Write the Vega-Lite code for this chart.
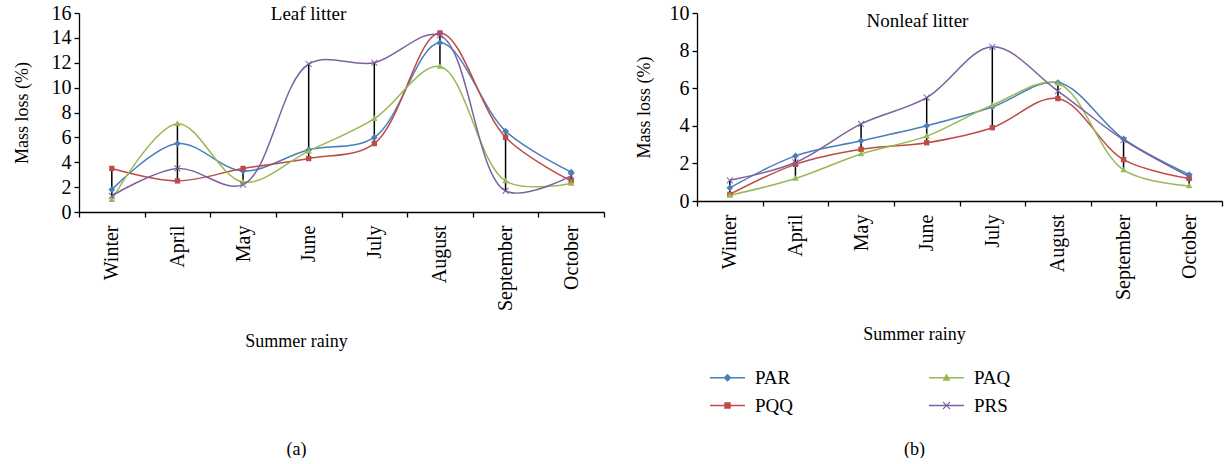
{
  "$schema": "https://vega.github.io/schema/vega-lite/v6.json",
  "padding": {"left": 13, "top": 3, "right": 2, "bottom": 0},
  "background": "white",
  "config": {
    "font": "Liberation Serif",
    "view": {"stroke": null},
    "axis": {
      "labelFont": "Liberation Serif", "titleFont": "Liberation Serif",
      "labelColor": "black", "titleColor": "black",
      "domainColor": "black", "tickColor": "black",
      "grid": false, "labelFontSize": 20, "titleFontSize": 18,
      "titleFontWeight": "normal", "domainWidth": 1.3, "tickWidth": 1.3
    },
    "legend": {"labelFont": "Liberation Serif", "labelFontSize": 19, "labelColor": "black"},
    "title": {"font": "Liberation Serif", "fontSize": 19, "fontWeight": "normal", "color": "black", "anchor": "middle", "baseline": "alphabetic"},
    "concat": {"spacing": 30}
  },
  "datasets": {
    "leaf": [
      {"month": "Winter", "series": "PAR", "value": 1.8},
      {"month": "Winter", "series": "PQQ", "value": 3.5},
      {"month": "Winter", "series": "PAQ", "value": 1.0},
      {"month": "Winter", "series": "PRS", "value": 1.3},
      {"month": "April", "series": "PAR", "value": 5.5},
      {"month": "April", "series": "PQQ", "value": 2.5},
      {"month": "April", "series": "PAQ", "value": 7.1},
      {"month": "April", "series": "PRS", "value": 3.5},
      {"month": "May", "series": "PAR", "value": 3.3},
      {"month": "May", "series": "PQQ", "value": 3.5},
      {"month": "May", "series": "PAQ", "value": 2.4},
      {"month": "May", "series": "PRS", "value": 2.2},
      {"month": "June", "series": "PAR", "value": 5.0},
      {"month": "June", "series": "PQQ", "value": 4.3},
      {"month": "June", "series": "PAQ", "value": 4.9},
      {"month": "June", "series": "PRS", "value": 11.9},
      {"month": "July", "series": "PAR", "value": 6.0},
      {"month": "July", "series": "PQQ", "value": 5.5},
      {"month": "July", "series": "PAQ", "value": 7.5},
      {"month": "July", "series": "PRS", "value": 12.0},
      {"month": "August", "series": "PAR", "value": 13.6},
      {"month": "August", "series": "PQQ", "value": 14.4},
      {"month": "August", "series": "PAQ", "value": 11.7},
      {"month": "August", "series": "PRS", "value": 14.2},
      {"month": "September", "series": "PAR", "value": 6.5},
      {"month": "September", "series": "PQQ", "value": 6.0},
      {"month": "September", "series": "PAQ", "value": 2.5},
      {"month": "September", "series": "PRS", "value": 1.7},
      {"month": "October", "series": "PAR", "value": 3.2},
      {"month": "October", "series": "PQQ", "value": 2.5},
      {"month": "October", "series": "PAQ", "value": 2.3},
      {"month": "October", "series": "PRS", "value": 2.9}
    ],
    "nonleaf": [
      {"month": "Winter", "series": "PAR", "value": 0.7},
      {"month": "Winter", "series": "PQQ", "value": 0.35},
      {"month": "Winter", "series": "PAQ", "value": 0.3},
      {"month": "Winter", "series": "PRS", "value": 1.1},
      {"month": "April", "series": "PAR", "value": 2.4},
      {"month": "April", "series": "PQQ", "value": 1.95},
      {"month": "April", "series": "PAQ", "value": 1.2},
      {"month": "April", "series": "PRS", "value": 2.05},
      {"month": "May", "series": "PAR", "value": 3.2},
      {"month": "May", "series": "PQQ", "value": 2.75},
      {"month": "May", "series": "PAQ", "value": 2.5},
      {"month": "May", "series": "PRS", "value": 4.1},
      {"month": "June", "series": "PAR", "value": 4.0},
      {"month": "June", "series": "PQQ", "value": 3.1},
      {"month": "June", "series": "PAQ", "value": 3.45},
      {"month": "June", "series": "PRS", "value": 5.5},
      {"month": "July", "series": "PAR", "value": 5.0},
      {"month": "July", "series": "PQQ", "value": 3.9},
      {"month": "July", "series": "PAQ", "value": 5.1},
      {"month": "July", "series": "PRS", "value": 8.2},
      {"month": "August", "series": "PAR", "value": 6.3},
      {"month": "August", "series": "PQQ", "value": 5.45},
      {"month": "August", "series": "PAQ", "value": 6.25},
      {"month": "August", "series": "PRS", "value": 5.85},
      {"month": "September", "series": "PAR", "value": 3.3},
      {"month": "September", "series": "PQQ", "value": 2.2},
      {"month": "September", "series": "PAQ", "value": 1.65},
      {"month": "September", "series": "PRS", "value": 3.25},
      {"month": "October", "series": "PAR", "value": 1.4},
      {"month": "October", "series": "PQQ", "value": 1.2},
      {"month": "October", "series": "PAQ", "value": 0.8},
      {"month": "October", "series": "PRS", "value": 1.3}
    ]
  },
  "hconcat": [
    {
      "width": 525, "height": 199,
      "data": {"name": "leaf"},
      "title": {"text": "Leaf litter", "dx": -33, "offset": -21, "fontWeight": "normal", "fontSize": 19, "font": "Liberation Serif"},
      "encoding": {
        "x": {
          "field": "month", "type": "nominal",
          "sort": ["Winter", "April", "May", "June", "July", "August", "September", "October"],
          "scale": {"type": "band", "paddingInner": 0, "paddingOuter": 0},
          "axis": {
            "tickBand": "extent", "labelAngle": -90, "labelPadding": 8, "tickSize": 5,
            "labelFont": "Liberation Serif", "labelFontSize": 20,
            "title": ["Summer rainy", "(a)"],
            "titleFont": "Liberation Serif", "titleFontSize": 18,
            "titleX": 217, "titleY": 134, "titleAlign": "center", "titleBaseline": "alphabetic",
            "titleLineHeight": 108, "titleAnchor": null
          }
        },
        "y": {"field": "value", "type": "quantitative", "title": "Mass loss (%)",
              "scale": {"domain": [0, 16], "nice": false},
              "axis": {"values": [0, 2, 4, 6, 8, 10, 12, 14, 16], "labelOverlap": false, "tickSize": 5, "labelPadding": 3, "titlePadding": 20,
                       "labelFont": "Liberation Serif", "labelFontSize": 20, "titleFont": "Liberation Serif", "titleFontSize": 18}},
        "color": {"field": "series", "type": "nominal",
                  "scale": {"domain": ["PAR", "PQQ", "PAQ", "PRS"], "range": ["#4A7EBB", "#BE4B48", "#98B954", "#7D60A0"]},
                  "legend": null}
      },
      "layer": [
        {
          "mark": {"type": "line", "interpolate": "catmull-rom", "strokeWidth": 1.5}
        },
        {
          "mark": {"type": "rule", "color": "black", "strokeWidth": 1.5},
          "encoding": {
            "color": {"value": "black"},
            "y": {"aggregate": "min", "field": "value", "type": "quantitative", "title": "Mass loss (%)",
                  "scale": {"domain": [0, 16], "nice": false},
                  "axis": {"values": [0, 2, 4, 6, 8, 10, 12, 14, 16], "labelOverlap": false, "tickSize": 5, "labelPadding": 3, "titlePadding": 20,
                           "labelFont": "Liberation Serif", "labelFontSize": 20, "titleFont": "Liberation Serif", "titleFontSize": 18}},
            "y2": {"aggregate": "max", "field": "value"}
          }
        },
        {
          "mark": {"type": "point", "filled": true, "size": 45, "opacity": 1},
          "encoding": {
            "shape": {
              "field": "series", "type": "nominal", "legend": null,
              "scale": {"domain": ["PAR", "PQQ", "PAQ", "PRS"], "range": ["M0,-1L1,0L0,1L-1,0Z", "M-0.8,-0.8H0.8V0.8H-0.8Z", "M0,-1L0.95,0.7H-0.95Z", "M-1,-0.8L-0.8,-1L0,-0.2L0.8,-1L1,-0.8L0.2,0L1,0.8L0.8,1L0,0.2L-0.8,1L-1,0.8L-0.2,0Z"]}
            }
          }
        }
      ]
    },
    {
      "width": 525, "height": 188,
      "data": {"name": "nonleaf"},
      "title": {"text": "Nonleaf litter", "dx": -42, "offset": -28, "fontWeight": "normal", "fontSize": 19, "font": "Liberation Serif"},
      "encoding": {
        "x": {
          "field": "month", "type": "nominal",
          "sort": ["Winter", "April", "May", "June", "July", "August", "September", "October"],
          "scale": {"type": "band", "paddingInner": 0, "paddingOuter": 0},
          "axis": {
            "tickBand": "extent", "labelAngle": -90, "labelPadding": 8, "tickSize": 5,
            "labelFont": "Liberation Serif", "labelFontSize": 20,
            "title": ["Summer rainy", "(b)"],
            "titleFont": "Liberation Serif", "titleFontSize": 18,
            "titleX": 217, "titleY": 138, "titleAlign": "center", "titleBaseline": "alphabetic",
            "titleLineHeight": 115, "titleAnchor": null
          }
        },
        "y": {"field": "value", "type": "quantitative", "title": "Mass loss (%)",
              "scale": {"domain": [0, 10], "nice": false},
              "axis": {"values": [0, 2, 4, 6, 8, 10], "labelOverlap": false, "tickSize": 5, "labelPadding": 3, "titlePadding": 16,
                       "labelFont": "Liberation Serif", "labelFontSize": 20, "titleFont": "Liberation Serif", "titleFontSize": 18}},
        "color": {"field": "series", "type": "nominal",
                  "scale": {"domain": ["PAR", "PQQ", "PAQ", "PRS"], "range": ["#4A7EBB", "#BE4B48", "#98B954", "#7D60A0"]},
                  "legend": {
                    "orient": "none", "legendX": 21, "legendY": 355, "title": null,
                    "columns": 2, "columnPadding": 135, "rowPadding": 8,
                    "symbolSize": 100, "labelOffset": 18,
                    "labelFont": "Liberation Serif", "labelFontSize": 19, "labelColor": "black",
                    "encode": {
                      "symbols": {
                        "update": {
                          "shape": {"signal": "datum.value === 'PAR' ? 'M-3.5,-0.13H3.5V0.13H-3.5ZM0,-0.8L0.8,0L0,0.8L-0.8,0Z' : datum.value === 'PQQ' ? 'M-3.5,-0.13H3.5V0.13H-3.5ZM-0.65,-0.65H0.65V0.65H-0.65Z' : datum.value === 'PAQ' ? 'M-3.5,-0.13H3.5V0.13H-3.5ZM0,-0.85L0.8,0.6H-0.8Z' : 'M-3.5,-0.13H3.5V0.13H-3.5ZM-0.8,-0.64L-0.64,-0.8L0,-0.16L0.64,-0.8L0.8,-0.64L0.16,0L0.8,0.64L0.64,0.8L0,0.16L-0.64,0.8L-0.8,0.64L-0.16,0Z'"},
                          "strokeWidth": {"value": 0},
                          "opacity": {"value": 1}
                        }
                      }
                    }
                  }}
      },
      "layer": [
        {
          "mark": {"type": "line", "interpolate": "catmull-rom", "strokeWidth": 1.5}
        },
        {
          "mark": {"type": "rule", "color": "black", "strokeWidth": 1.5},
          "encoding": {
            "color": {"value": "black"},
            "y": {"aggregate": "min", "field": "value", "type": "quantitative", "title": "Mass loss (%)",
                  "scale": {"domain": [0, 10], "nice": false},
                  "axis": {"values": [0, 2, 4, 6, 8, 10], "labelOverlap": false, "tickSize": 5, "labelPadding": 3, "titlePadding": 16,
                           "labelFont": "Liberation Serif", "labelFontSize": 20, "titleFont": "Liberation Serif", "titleFontSize": 18}},
            "y2": {"aggregate": "max", "field": "value"}
          }
        },
        {
          "mark": {"type": "point", "filled": true, "size": 45, "opacity": 1},
          "encoding": {
            "shape": {
              "field": "series", "type": "nominal", "legend": null,
              "scale": {"domain": ["PAR", "PQQ", "PAQ", "PRS"], "range": ["M0,-1L1,0L0,1L-1,0Z", "M-0.8,-0.8H0.8V0.8H-0.8Z", "M0,-1L0.95,0.7H-0.95Z", "M-1,-0.8L-0.8,-1L0,-0.2L0.8,-1L1,-0.8L0.2,0L1,0.8L0.8,1L0,0.2L-0.8,1L-1,0.8L-0.2,0Z"]}
            }
          }
        }
      ]
    }
  ],
  "resolve": {"scale": {"x": "independent", "y": "independent", "color": "shared", "shape": "shared"}, "legend": {"color": "independent"}}
}
